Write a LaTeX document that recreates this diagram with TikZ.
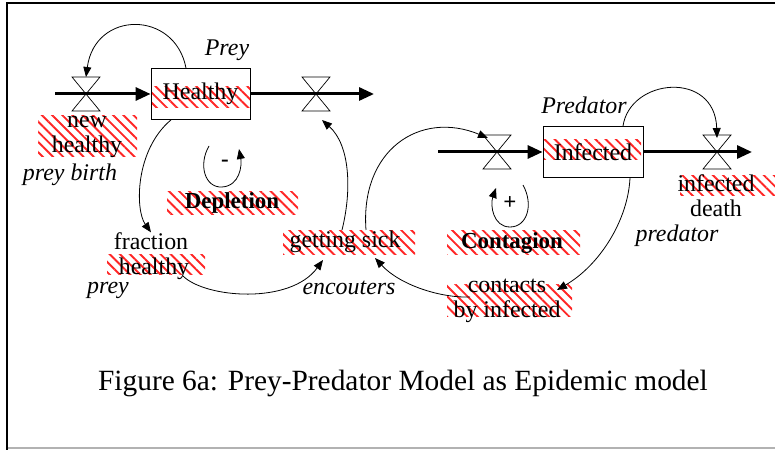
\documentclass[tikz,border=0pt]{standalone}
\usepackage{fontspec}
\setmainfont{Liberation Serif}
\usetikzlibrary{arrows.meta,patterns.meta,calc}
\begin{document}
\begin{tikzpicture}[x=1bp,y=-1bp,
  every node/.style={font=\fontsize{24}{25}\selectfont, inner sep=0pt},
  lbl/.style={font=\fontsize{24}{25}\selectfont\itshape},
  bld/.style={font=\fontsize{23}{25}\selectfont\bfseries},
  hatch/.style={pattern={Lines[angle=-45,distance=7.2bp,line width=1.9bp]},pattern color=red!85},
  stock/.style={draw,line width=0.8bp,minimum height=51bp},
  flow/.style={line width=3bp,-{Triangle[length=15bp,width=13bp]}},
  link/.style={line width=0.8bp,-{Triangle[length=10bp,width=8bp]}},
  valve/.pic={\draw[fill=white,line width=0.7bp] (-14,-17)--(14,-17)--(0,0)--cycle (0,0)--(-14,17)--(14,17)--cycle;}]
\useasboundingbox (0,0) rectangle (775,450);
% frame
\draw[gray!60,line width=1.2bp] (7,448) -- (775,448);
\draw[line width=2bp] (7,450) -- (7,3) -- (776,3);
% hatches
\fill[hatch] (151,87) rectangle (250,108);
\fill[hatch] (38,116) rectangle (137,157);
\fill[hatch] (107,255) rectangle (205,275);
\fill[hatch] (167,192) rectangle (298,215);
\fill[hatch] (283,231) rectangle (415,255);
\fill[hatch] (543,140) rectangle (641,160);
\fill[hatch] (447,231) rectangle (580,255);
\fill[hatch] (680,176) rectangle (775,196);
\fill[hatch] (447,285) rectangle (572,317);
% stocks
\node[stock,minimum width=99bp] (healthy) at (200.5,94) {Healthy};
\node[stock,minimum width=100bp] (infected) at (593,152) {Infected};
% valves
\coordinate (v1) at (86,94);
\coordinate (v2) at (316,94);
\coordinate (v3) at (497,152);
\coordinate (v4) at (717,152);
\pic at (v1) {valve};
\pic at (v2) {valve};
\pic at (v3) {valve};
\pic at (v4) {valve};
% flows
\coordinate (s1) at (55,94);
\coordinate (k1) at (374,94);
\coordinate (s2) at (438,152);
\coordinate (k2) at (752,152);
\draw[flow] (s1) -- (healthy.west);
\draw[flow] (healthy.east) -- (k1);
\draw[flow] (s2) -- (infected.west);
\draw[flow] (infected.east) -- (k2);
% labels
\node[lbl] (preyT) at (227,50) {Prey};
\node[lbl] (predT) at (584,105) {Predator};
\node[align=center] (newh) at (87,137) {new\\healthy};
\node[lbl] (pbirth) at (70,175) {prey birth};
\node[bld] (minus) at (225,163) {-};
\node[bld] (depl) at (232,203) {Depletion};
\node[align=center] (frac) at (151,256) {fraction\\\ healthy};
\node[lbl] (prey) at (108,290) {prey};
\node (sick) at (345,242) {getting sick};
\node[lbl] (enc) at (349,288) {encouters};
\node[bld] (plus) at (510,203) {+};
\node[bld] (cont) at (512,243) {Contagion};
\node[align=center] (idth) at (716,196) {infected\\death};
\node[lbl] (pred) at (677,236) {predator};
\node[align=center] (contacts) at (507,301) {contacts\\by infected};
\node[font=\fontsize{29.5}{32}\selectfont] (cap) at (403,383) {Figure 6a: Prey-Predator Model as Epidemic model};
% links
\draw[link] ($(healthy.north)+(-14.5,0)$) .. controls (175,10) and (95,10) .. ($(v1)+(0,-17)$);
\draw[link] ($(healthy.south)+(-29.5,0)$) .. controls (135,150) and (135,210) .. (frac.north);
\draw[link] (183,276) .. controls (205,298) and (290,305) .. (323,260);
\draw[link] (342,230) .. controls (352,190) and (350,145) .. ($(v2)+(6,26)$);
\draw[link] (366,230) .. controls (360,150) and (420,110) .. ($(v3)+(-9,-14)$);
\draw[link] (470,297) .. controls (440,298) and (400,285) .. (375,258);
\draw[link] ($(infected.south)+(37,0)$) .. controls (628,220) and (600,265) .. (557,290);
\draw[link] ($(infected.north)+(30,0)$) .. controls (630,78) and (715,70) .. ($(v4)+(0,-14)$);
% loops
\draw[link] (209,146) .. controls (198,165) and (205,188) .. (222,187) .. controls (240,186) and (242,165) .. (239,149);
\draw[link] (523,185) .. controls (534,205) and (527,227) .. (510,227) .. controls (493,227) and (490,205) .. (496,188);
\end{tikzpicture}
\end{document}
